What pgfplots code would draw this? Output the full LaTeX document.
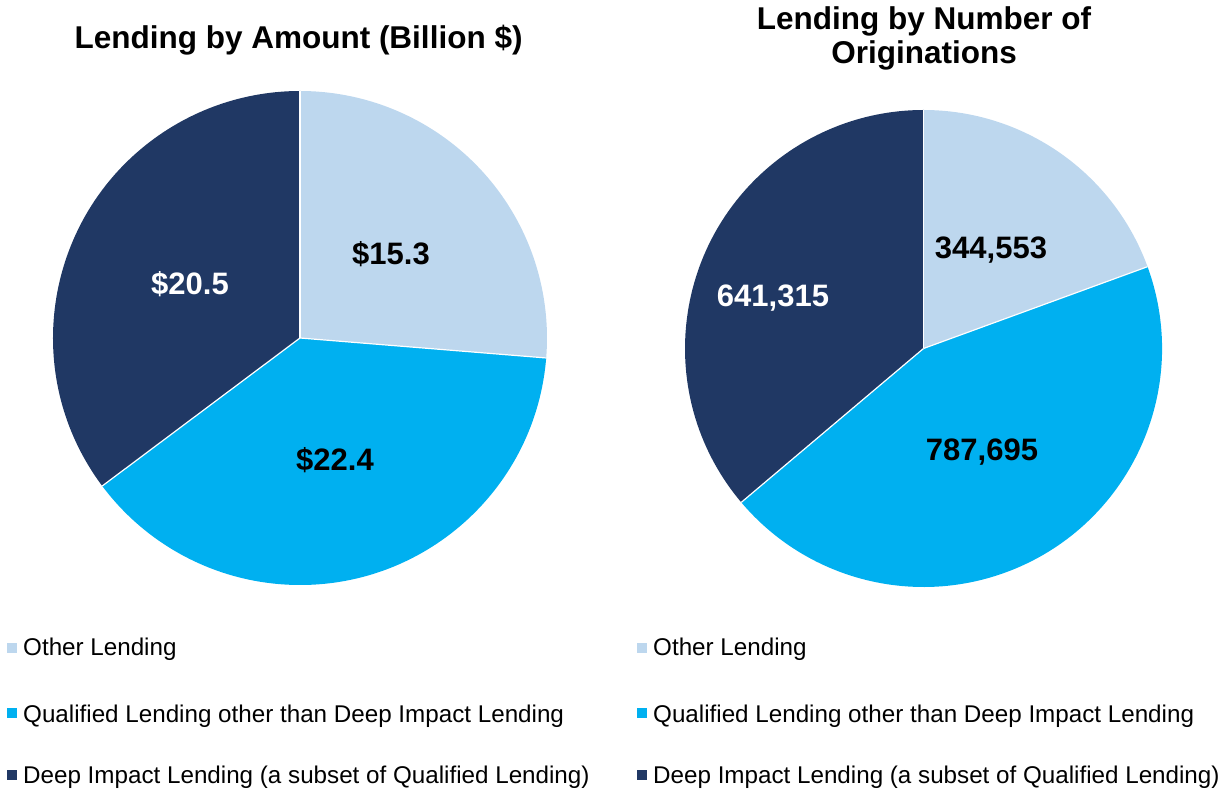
\documentclass[border=0pt]{standalone}
\usepackage{pgfplots}
\pgfplotsset{compat=1.18}
\usepackage{pgfplotstable}
\usepackage{fontspec}
\setmainfont{Liberation Sans}
\definecolor{cOther}{HTML}{BDD7EE}
\definecolor{cQual}{HTML}{00B0F0}
\definecolor{cDeep}{HTML}{203864}

\pgfplotstableread{
label value
Other 15.3
Qualified 22.4
Deep 20.5
}\amounttable
\pgfplotstableread{
label value
Other 344553
Qualified 787695
Deep 641315
}\numbertable

\begin{document}%
\begin{tikzpicture}
\pgfplotstablegetelem{0}{value}\of\amounttable \let\Aa\pgfplotsretval
\pgfplotstablegetelem{1}{value}\of\amounttable \let\Ab\pgfplotsretval
\pgfplotstablegetelem{2}{value}\of\amounttable \let\Ac\pgfplotsretval
\pgfplotstablegetelem{0}{value}\of\numbertable \let\Ba\pgfplotsretval
\pgfplotstablegetelem{1}{value}\of\numbertable \let\Bb\pgfplotsretval
\pgfplotstablegetelem{2}{value}\of\numbertable \let\Bc\pgfplotsretval
\edef\AangA{\fpeval{90-360*\Aa/(\Aa+\Ab+\Ac)}}
\edef\AangB{\fpeval{90-360*(\Aa+\Ab)/(\Aa+\Ab+\Ac)}}
\edef\BangA{\fpeval{90-360*\Ba/(\Ba+\Bb+\Bc)}}
\edef\BangB{\fpeval{90-360*(\Ba+\Bb)/(\Ba+\Bb+\Bc)}}
\begin{axis}[
  at={(0,0)}, anchor=origin,
  x=1pt, y=1pt, xmin=0, xmax=1228, ymin=0, ymax=793,
  hide axis, clip=false, scale only axis,
]
% ---- left pie: amount
\fill[cOther] (axis cs:300,455) -- ++(90:247pt) arc[start angle=90, end angle=\AangA, radius=247pt] -- cycle;
\fill[cQual] (axis cs:300,455) -- ++(\AangA:247pt) arc[start angle=\AangA, end angle=\AangB, radius=247pt] -- cycle;
\fill[cDeep] (axis cs:300,455) -- ++(\AangB:247pt) arc[start angle=\AangB, end angle=-270, radius=247pt] -- cycle;
\draw[white, line width=1.2pt] (axis cs:300,455) -- ++(90:247pt);
\draw[white, line width=1.2pt] (axis cs:300,455) -- ++(\AangA:247pt);
\draw[white, line width=1.2pt] (axis cs:300,455) -- ++(\AangB:247pt);
% ---- right pie: number
\fill[cOther] (axis cs:923.5,444.5) -- ++(90:238.5pt) arc[start angle=90, end angle=\BangA, radius=238.5pt] -- cycle;
\fill[cQual] (axis cs:923.5,444.5) -- ++(\BangA:238.5pt) arc[start angle=\BangA, end angle=\BangB, radius=238.5pt] -- cycle;
\fill[cDeep] (axis cs:923.5,444.5) -- ++(\BangB:238.5pt) arc[start angle=\BangB, end angle=-270, radius=238.5pt] -- cycle;
\draw[white, line width=1.2pt] (axis cs:923.5,444.5) -- ++(90:238.5pt);
\draw[white, line width=1.2pt] (axis cs:923.5,444.5) -- ++(\BangA:238.5pt);
\draw[white, line width=1.2pt] (axis cs:923.5,444.5) -- ++(\BangB:238.5pt);
% ---- slice labels
\node[font=\fontsize{31}{36}\selectfont\bfseries, black] at (axis cs:391,539) {\$15.3};
\node[font=\fontsize{31}{36}\selectfont\bfseries, black] at (axis cs:335,333) {\$22.4};
\node[font=\fontsize{31}{36}\selectfont\bfseries, white] at (axis cs:190,509) {\$20.5};
\node[font=\fontsize{31}{36}\selectfont\bfseries, black] at (axis cs:991,543) {344,553};
\node[font=\fontsize{31}{36}\selectfont\bfseries, black] at (axis cs:982,341) {787,695};
\node[font=\fontsize{31}{36}\selectfont\bfseries, white] at (axis cs:773,495) {641,315};
% ---- titles
\node[anchor=base, font=\fontsize{31.5}{36}\selectfont\bfseries, inner sep=0pt] at (axis cs:298.5,744) {Lending by Amount (Billion \$)};
\node[anchor=base, font=\fontsize{31.5}{36}\selectfont\bfseries, inner sep=0pt] at (axis cs:924,763) {Lending by Number of};
\node[anchor=base, font=\fontsize{31.5}{36}\selectfont\bfseries, inner sep=0pt] at (axis cs:924,729) {Originations};
% ---- legends
\fill[cOther] (axis cs:7,140) rectangle (axis cs:17,150);
\fill[cQual] (axis cs:7,75) rectangle (axis cs:17,85);
\fill[cDeep] (axis cs:7,13) rectangle (axis cs:17,23);
\node[anchor=base west, inner sep=0pt, font=\fontsize{24.2}{28}\selectfont] at (axis cs:23,138) {Other Lending};
\node[anchor=base west, inner sep=0pt, font=\fontsize{24.2}{28}\selectfont] at (axis cs:23,71) {Qualified Lending other than Deep Impact Lending};
\node[anchor=base west, inner sep=0pt, font=\fontsize{24.2}{28}\selectfont] at (axis cs:23,10) {Deep Impact Lending (a subset of Qualified Lending)};
\fill[cOther] (axis cs:637,140) rectangle (axis cs:647,150);
\fill[cQual] (axis cs:637,75) rectangle (axis cs:647,85);
\fill[cDeep] (axis cs:637,13) rectangle (axis cs:647,23);
\node[anchor=base west, inner sep=0pt, font=\fontsize{24.2}{28}\selectfont] at (axis cs:653,138) {Other Lending};
\node[anchor=base west, inner sep=0pt, font=\fontsize{24.2}{28}\selectfont] at (axis cs:653,71) {Qualified Lending other than Deep Impact Lending};
\node[anchor=base west, inner sep=0pt, font=\fontsize{24.2}{28}\selectfont] at (axis cs:653,10) {Deep Impact Lending (a subset of Qualified Lending)};
\end{axis}
\pgfresetboundingbox
\path[use as bounding box] (0,0) rectangle (1228pt,793pt);
\end{tikzpicture}%
\end{document}
